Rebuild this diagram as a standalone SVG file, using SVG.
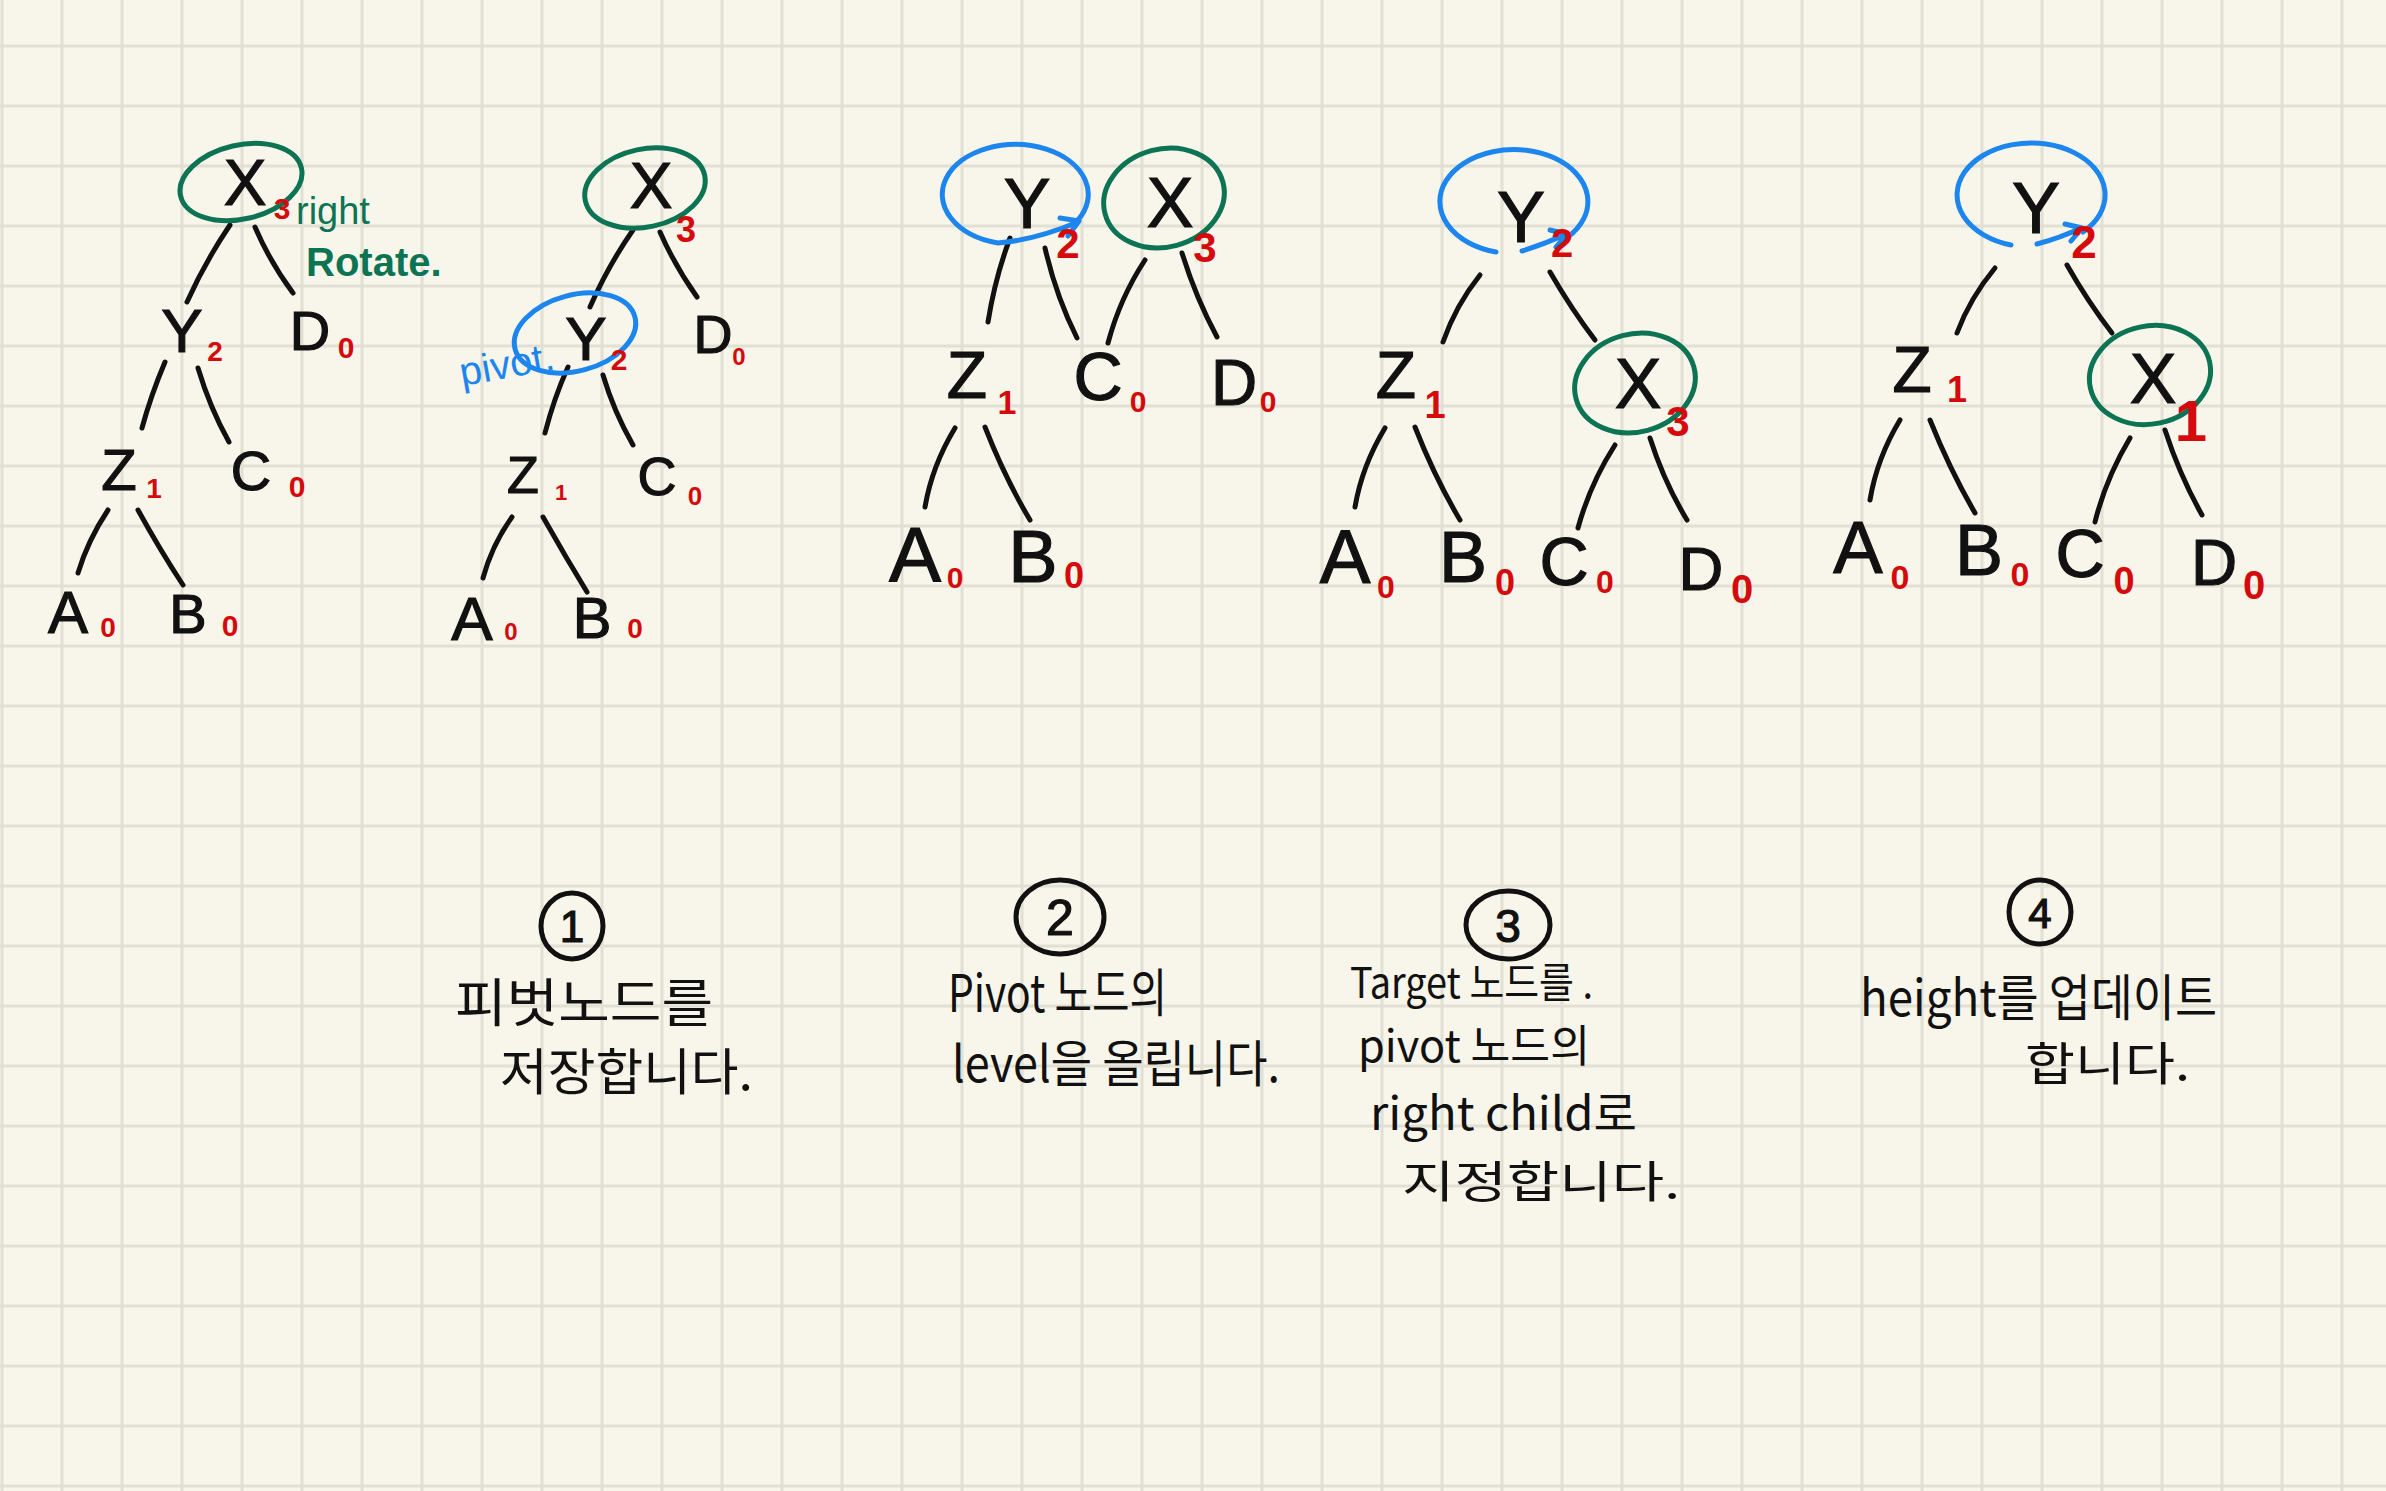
<svg xmlns="http://www.w3.org/2000/svg" width="2386" height="1491" viewBox="0 0 2386 1491">
<defs>
<pattern id="grid" patternUnits="userSpaceOnUse" x="0.5" y="44.5" width="60" height="60">
<rect x="0" y="0" width="3" height="60" fill="#e2dfd3"/>
<rect x="0" y="0" width="60" height="3" fill="#e2dfd3"/>
</pattern>
<style>
.n{font-family:"Liberation Sans",Arial,sans-serif;fill:#111;stroke:#111;stroke-width:1.2;text-anchor:middle}
.h{font-family:"Liberation Sans",Arial,sans-serif;fill:#d50a0c;font-weight:bold;text-anchor:middle}
.e{stroke:#111;stroke-width:5;fill:none;stroke-linecap:round}
.g{stroke:#0c7454;stroke-width:5;fill:none;stroke-linecap:round}
.b{stroke:#1c86ee;stroke-width:5;fill:none;stroke-linecap:round;stroke-linejoin:round}
.k{font-family:"Noto Sans CJK KR","Noto Sans",sans-serif;fill:#111}
.c{stroke:#111;stroke-width:5;fill:none}
</style>
</defs>
<rect width="2386" height="1491" fill="#f8f6ea"/>
<rect width="2386" height="1491" fill="url(#grid)"/>

<g id="connectors">
<path class="e" d="M230,225 Q205,262 187,302"/>
<path class="e" d="M255,227 Q270,262 293,293"/>
<path class="e" d="M165,362 Q151,395 142,428"/>
<path class="e" d="M198,368 Q210,408 229,442"/>
<path class="e" d="M108,510 Q88,540 78,573"/>
<path class="e" d="M138,510 Q160,550 183,585"/>

<path class="e" d="M633,230 Q608,266 590,307"/>
<path class="e" d="M660,232 Q675,266 697,297"/>
<path class="e" d="M568,367 Q554,398 545,433"/>
<path class="e" d="M603,375 Q614,412 633,445"/>
<path class="e" d="M512,517 Q492,545 483,578"/>
<path class="e" d="M543,517 Q565,556 587,592"/>

<path class="e" d="M1010,238 Q995,278 988,322"/>
<path class="e" d="M1045,248 Q1056,296 1077,338"/>
<path class="e" d="M1145,260 Q1120,298 1108,343"/>
<path class="e" d="M1182,253 Q1196,298 1217,337"/>
<path class="e" d="M955,428 Q932,466 925,507"/>
<path class="e" d="M985,427 Q1005,478 1030,520"/>

<path class="e" d="M1480,275 Q1456,305 1443,342"/>
<path class="e" d="M1550,272 Q1572,310 1595,340"/>
<path class="e" d="M1385,428 Q1362,466 1355,507"/>
<path class="e" d="M1415,427 Q1435,478 1460,520"/>
<path class="e" d="M1615,445 Q1590,484 1578,528"/>
<path class="e" d="M1650,438 Q1664,482 1687,520"/>

<path class="e" d="M1995,268 Q1970,298 1957,333"/>
<path class="e" d="M2067,265 Q2088,302 2112,333"/>
<path class="e" d="M1900,420 Q1877,458 1870,500"/>
<path class="e" d="M1930,420 Q1950,470 1975,513"/>
<path class="e" d="M2130,438 Q2106,478 2095,522"/>
<path class="e" d="M2165,430 Q2180,476 2202,515"/>
</g>

<!-- Tree 1 -->
<g id="t1-X">
<ellipse class="g" cx="241" cy="182" rx="62" ry="37" transform="rotate(-13 241 182)"/>
<text class="n" x="245" y="205" font-size="64">X</text>
<text class="h" x="282" y="219" font-size="30">3</text>
<text x="296" y="224" font-family="Liberation Sans,Arial,sans-serif" font-size="38" fill="#0c7454">right</text>
<text x="306" y="276" font-family="Liberation Sans,Arial,sans-serif" font-size="40" fill="#0c7454" font-weight="bold">Rotate.</text>
</g>
<g id="t1-Y"><text class="n" x="182" y="352" font-size="62">Y</text><text class="h" x="215" y="361" font-size="28">2</text></g>
<g id="t1-D"><text class="n" x="310" y="350" font-size="56">D</text><text class="h" x="346" y="358" font-size="30">0</text></g>
<g id="t1-Z"><text class="n" x="119" y="490" font-size="58">Z</text><text class="h" x="154" y="498" font-size="28">1</text></g>
<g id="t1-C"><text class="n" x="251" y="490" font-size="56">C</text><text class="h" x="297" y="497" font-size="30">0</text></g>
<g id="t1-A"><text class="n" x="68" y="633" font-size="60">A</text><text class="h" x="108" y="637" font-size="28">0</text></g>
<g id="t1-B"><text class="n" x="188" y="633" font-size="56">B</text><text class="h" x="230" y="636" font-size="30">0</text></g>

<!-- Tree 2 -->
<g id="t2-X">
<ellipse class="g" cx="645" cy="188" rx="61" ry="39" transform="rotate(-12 645 188)"/>
<text class="n" x="651" y="208" font-size="64">X</text>
<text class="h" x="686" y="242" font-size="36">3</text>
</g>
<g id="t2-Y">
<ellipse class="b" cx="575" cy="333" rx="62" ry="38" transform="rotate(-15 575 333)"/>
<text class="n" x="586" y="360" font-size="62">Y</text>
<text class="h" x="619" y="370" font-size="30">2</text>
<text x="462" y="386" font-family="Liberation Sans,Arial,sans-serif" font-size="40" fill="#1c86ee" transform="rotate(-10 462 386)">pivot.</text>
</g>
<g id="t2-D"><text class="n" x="713" y="353" font-size="54">D</text><text class="h" x="739" y="365" font-size="24">0</text></g>
<g id="t2-Z"><text class="n" x="523" y="493" font-size="52">Z</text><text class="h" x="561" y="500" font-size="22">1</text></g>
<g id="t2-C"><text class="n" x="657" y="495" font-size="54">C</text><text class="h" x="695" y="505" font-size="26">0</text></g>
<g id="t2-A"><text class="n" x="472" y="640" font-size="62">A</text><text class="h" x="511" y="640" font-size="24">0</text></g>
<g id="t2-B"><text class="n" x="592" y="638" font-size="58">B</text><text class="h" x="635" y="638" font-size="28">0</text></g>

<!-- Tree 3 -->
<g id="t3-Y">
<path class="b" d="M1078,220 A73,50 0 1 0 998,243 Q1035,240 1078,222 M1060,218 L1079,221 L1068,236"/>
<text class="n" x="1027" y="228" font-size="70">Y</text>
<text class="h" x="1068" y="258" font-size="42">2</text>
</g>
<g id="t3-X">
<ellipse class="g" cx="1164" cy="198" rx="61" ry="49" transform="rotate(-15 1164 198)"/>
<text class="n" x="1170" y="227" font-size="70">X</text>
<text class="h" x="1205" y="262" font-size="42">3</text>
</g>
<g id="t3-Z"><text class="n" x="967" y="398" font-size="66">Z</text><text class="h" x="1007" y="414" font-size="34">1</text></g>
<g id="t3-C"><text class="n" x="1098" y="400" font-size="68">C</text><text class="h" x="1138" y="412" font-size="30">0</text></g>
<g id="t3-D"><text class="n" x="1234" y="405" font-size="64">D</text><text class="h" x="1268" y="412" font-size="30">0</text></g>
<g id="t3-A"><text class="n" x="915" y="582" font-size="78">A</text><text class="h" x="955" y="588" font-size="30">0</text></g>
<g id="t3-B"><text class="n" x="1033" y="582" font-size="74">B</text><text class="h" x="1074" y="588" font-size="36">0</text></g>

<!-- Tree 4 -->
<g id="t4-Y">
<path class="b" d="M1496,252 A74,52 0 1 1 1568,237 M1522,251 Q1545,244 1566,234 M1550,230 L1567,234 L1556,247"/>
<text class="n" x="1521" y="242" font-size="72">Y</text>
<text class="h" x="1562" y="257" font-size="40">2</text>
</g>
<g id="t4-X">
<ellipse class="g" cx="1635" cy="383" rx="61" ry="49" transform="rotate(-15 1635 383)"/>
<text class="n" x="1638" y="408" font-size="70">X</text>
<text class="h" x="1678" y="436" font-size="42">3</text>
</g>
<g id="t4-Z"><text class="n" x="1396" y="398" font-size="66">Z</text><text class="h" x="1435" y="418" font-size="38">1</text></g>
<g id="t4-A"><text class="n" x="1345" y="583" font-size="76">A</text><text class="h" x="1386" y="598" font-size="32">0</text></g>
<g id="t4-B"><text class="n" x="1463" y="582" font-size="72">B</text><text class="h" x="1505" y="595" font-size="36">0</text></g>
<g id="t4-C"><text class="n" x="1564" y="585" font-size="68">C</text><text class="h" x="1605" y="593" font-size="32">0</text></g>
<g id="t4-D"><text class="n" x="1701" y="590" font-size="62">D</text><text class="h" x="1742" y="603" font-size="40">0</text></g>

<!-- Tree 5 -->
<g id="t5-Y">
<path class="b" d="M2011,245 A74,52 0 1 1 2083,232 M2037,244 Q2060,238 2081,228 M2065,224 L2082,228 L2071,241"/>
<text class="n" x="2036" y="233" font-size="72">Y</text>
<text class="h" x="2084" y="258" font-size="46">2</text>
</g>
<g id="t5-X">
<ellipse class="g" cx="2150" cy="375" rx="61" ry="49" transform="rotate(-12 2150 375)"/>
<text class="n" x="2153" y="403" font-size="70">X</text>
<text class="h" x="2191" y="441" font-size="58" font-weight="normal">1</text>
</g>
<g id="t5-Z"><text class="n" x="1912" y="392" font-size="64">Z</text><text class="h" x="1957" y="402" font-size="36">1</text></g>
<g id="t5-A"><text class="n" x="1858" y="573" font-size="74">A</text><text class="h" x="1900" y="589" font-size="34">0</text></g>
<g id="t5-B"><text class="n" x="1979" y="575" font-size="72">B</text><text class="h" x="2020" y="586" font-size="34">0</text></g>
<g id="t5-C"><text class="n" x="2080" y="577" font-size="68">C</text><text class="h" x="2124" y="594" font-size="38">0</text></g>
<g id="t5-D"><text class="n" x="2214" y="585" font-size="64">D</text><text class="h" x="2254" y="599" font-size="40">0</text></g>

<!-- Step captions -->
<g id="step1">
<ellipse class="c" cx="572" cy="926" rx="31" ry="33"/>
<text class="n" x="572" y="942" font-size="44">1</text>
<text class="k" x="455" y="1022" font-size="52" textLength="258" lengthAdjust="spacingAndGlyphs">피벗노드를</text>
<text class="k" x="500" y="1090" font-size="50" textLength="253" lengthAdjust="spacingAndGlyphs">저장합니다.</text>
</g>
<g id="step2">
<ellipse class="c" cx="1060" cy="917" rx="44" ry="37"/>
<text class="n" x="1060" y="935" font-size="50">2</text>
<text class="k" x="948" y="1012" font-size="52" textLength="219" lengthAdjust="spacingAndGlyphs">Pivot 노드의</text>
<text class="k" x="952" y="1082" font-size="50" textLength="328" lengthAdjust="spacingAndGlyphs">level을 올립니다.</text>
</g>
<g id="step3">
<ellipse class="c" cx="1508" cy="925" rx="42" ry="34"/>
<text class="n" x="1508" y="942" font-size="46">3</text>
<text class="k" x="1350" y="998" font-size="42" textLength="243" lengthAdjust="spacingAndGlyphs">Target 노드를 .</text>
<text class="k" x="1358" y="1062" font-size="44" textLength="232" lengthAdjust="spacingAndGlyphs">pivot 노드의</text>
<text class="k" x="1370" y="1130" font-size="46" textLength="267" lengthAdjust="spacingAndGlyphs">right child로</text>
<text class="k" x="1402" y="1198" font-size="44" textLength="278" lengthAdjust="spacingAndGlyphs">지정합니다.</text>
</g>
<g id="step4">
<ellipse class="c" cx="2040" cy="912" rx="31" ry="32"/>
<text class="n" x="2040" y="928" font-size="42">4</text>
<text class="k" x="1860" y="1016" font-size="50" textLength="357" lengthAdjust="spacingAndGlyphs">height를 업데이트</text>
<text class="k" x="2025" y="1080" font-size="46" textLength="165" lengthAdjust="spacingAndGlyphs">합니다.</text>
</g>
</svg>
